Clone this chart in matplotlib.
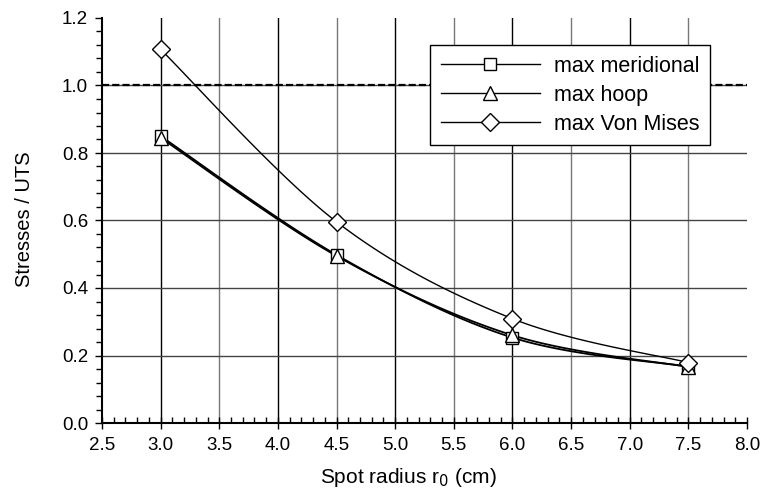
import numpy as np
import matplotlib
matplotlib.use('Agg')
import matplotlib.pyplot as plt
from matplotlib.lines import Line2D
from matplotlib.ticker import MultipleLocator, FormatStrFormatter

plt.rcParams['font.family'] = ['Liberation Sans', 'DejaVu Sans']

radius = [3.0, 4.5, 6.0, 7.5]
meridional = [0.850, 0.498, 0.253, 0.167]
hoop = [0.845, 0.495, 0.260, 0.166]
von_mises = [1.107, 0.596, 0.309, 0.179]
labels = ['max meridional', 'max hoop', 'max Von Mises']


def smooth(x, y, n=40):
    # Excel-like smoothed line: cubic Bezier with Catmull-Rom control points
    x = np.asarray(x, float)
    y = np.asarray(y, float)
    px = np.concatenate([[x[0]], x, [x[-1]]])
    py = np.concatenate([[y[0]], y, [y[-1]]])
    t = np.linspace(0, 1, n)
    xs, ys = [], []
    for i in range(1, len(px) - 2):
        p0 = np.array([px[i], py[i]])
        p3 = np.array([px[i + 1], py[i + 1]])
        p1 = p0 + (np.array([px[i + 1], py[i + 1]]) - np.array([px[i - 1], py[i - 1]])) / 6
        p2 = p3 - (np.array([px[i + 2], py[i + 2]]) - np.array([px[i], py[i]])) / 6
        b = ((1 - t) ** 3)[:, None] * p0 + (3 * (1 - t) ** 2 * t)[:, None] * p1 \
            + (3 * (1 - t) * t ** 2)[:, None] * p2 + (t ** 3)[:, None] * p3
        xs.append(b[:, 0])
        ys.append(b[:, 1])
    return np.concatenate(xs), np.concatenate(ys)


fig = plt.figure(figsize=(7.62, 4.94), dpi=100)
ax = fig.add_axes([102 / 762, 1 - 423 / 494, 645 / 762, 405 / 494])

ax.set_xlim(2.5, 8.0)
ax.set_ylim(0.0, 1.2)

# grid
for xv in np.arange(3.0, 8.0, 0.5):
    ax.axvline(xv, color='black' if xv % 1 == 0 else '#777777', lw=1.0, zorder=0)
for yv in np.arange(0.2, 1.2, 0.2):
    ax.axhline(yv, color='#444444', lw=1.0, zorder=0)
ax.axhline(1.0, color='black', lw=1.6, ls=(0, (3.2, 1.4)), zorder=1)

series = [
    (meridional, 's', 8.5, 1.3),
    (hoop, '^', 9.5, 1.3),
    (von_mises, 'D', 9.0, 1.0),
]
handles = []
for vals, mk, ms, lw in series:
    sx, sy = smooth(radius, vals)
    ax.plot(sx, sy, color='black', lw=lw, zorder=3)
    ax.plot(radius, vals, ls='none', marker=mk, ms=ms,
            mfc='white', mec='black', mew=1.0, zorder=4)
    handles.append(Line2D([], [], color='black', lw=1.0, marker=mk,
                          ms=ms, mfc='white', mec='black'))

leg = ax.legend(handles, labels, loc='upper right',
                bbox_to_anchor=(710 / 762, 1 - 45 / 494), bbox_transform=fig.transFigure,
                borderaxespad=0, fontsize=15.5, handlelength=4.6, handletextpad=0.65,
                labelspacing=0.37, fancybox=False, framealpha=1,
                edgecolor='black', borderpad=0.5)
leg.get_frame().set_linewidth(1.0)
leg.set_zorder(10)

ax.xaxis.set_major_locator(MultipleLocator(0.5))
ax.xaxis.set_minor_locator(MultipleLocator(0.1))
ax.yaxis.set_major_locator(MultipleLocator(0.2))
ax.yaxis.set_minor_locator(MultipleLocator(0.04))
ax.xaxis.set_major_formatter(FormatStrFormatter('%.1f'))
ax.yaxis.set_major_formatter(FormatStrFormatter('%.1f'))
ax.tick_params(axis='x', which='major', direction='inout', length=8, width=1.0,
               labelsize=13.5, pad=6)
ax.tick_params(axis='x', which='minor', direction='in', length=4, width=1.0)
ax.tick_params(axis='y', which='major', direction='out', length=5, width=1.0,
               labelsize=13.5, pad=5)
ax.tick_params(axis='y', which='minor', direction='out', length=4, width=1.0)

for side in ['top', 'right']:
    ax.spines[side].set_visible(False)
ax.spines['left'].set_linewidth(1.5)
ax.spines['bottom'].set_linewidth(1.5)

ax.set_xlabel('Spot radius r$_0$ (cm)', fontsize=15)
ax.set_ylabel('Stresses / UTS', fontsize=14.5)
ax.xaxis.set_label_coords((408 - 102) / 645, (423 - 466) / 405)
ax.yaxis.set_label_coords((34 - 102) / 645, (423 - 219) / 405)

fig.savefig('out.png', dpi=100)
